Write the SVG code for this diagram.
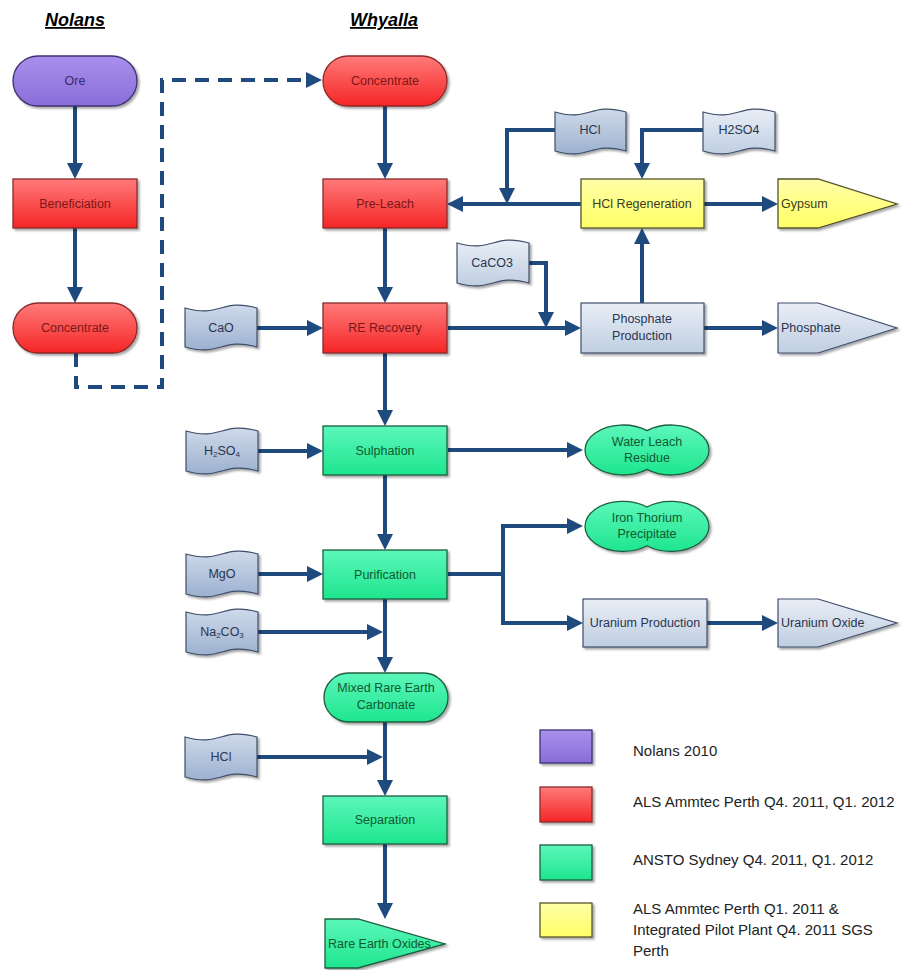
<svg xmlns="http://www.w3.org/2000/svg" width="913" height="970" viewBox="0 0 913 970">
<defs>
<linearGradient id="gRed" x1="0" y1="0" x2="0" y2="1"><stop offset="0" stop-color="#ff7a7a"/><stop offset="1" stop-color="#f52525"/></linearGradient>
<linearGradient id="gPur" x1="0" y1="0" x2="0" y2="1"><stop offset="0" stop-color="#a990ec"/><stop offset="1" stop-color="#8a6cd8"/></linearGradient>
<linearGradient id="gGrn" x1="0" y1="0" x2="0" y2="1"><stop offset="0" stop-color="#5cf7bb"/><stop offset="1" stop-color="#1ee58e"/></linearGradient>
<linearGradient id="gYel" x1="0" y1="0" x2="0" y2="1"><stop offset="0" stop-color="#ffffa8"/><stop offset="1" stop-color="#ffff66"/></linearGradient>
<linearGradient id="gTapeD" x1="0" y1="0" x2="0" y2="1"><stop offset="0" stop-color="#cfdaea"/><stop offset="1" stop-color="#9cb1cf"/></linearGradient>
<linearGradient id="gTapeL" x1="0" y1="0" x2="0" y2="1"><stop offset="0" stop-color="#e8eef6"/><stop offset="1" stop-color="#c0cee1"/></linearGradient>
<filter id="sh" x="-10%" y="-10%" width="125%" height="130%"><feDropShadow dx="2" dy="2" stdDeviation="1.2" flood-color="#000" flood-opacity="0.35"/></filter>
<marker id="ah" markerUnits="userSpaceOnUse" markerWidth="16" markerHeight="16" refX="10" refY="8" orient="auto"><path d="M0,0 L16,8 L0,16 z" fill="#1f4a7e"/></marker>
<style>
.t{font-family:"Liberation Sans",Arial,sans-serif;font-size:12.5px;text-anchor:middle;dominant-baseline:central}
.tl{text-anchor:start}
.red{fill:url(#gRed);stroke:#8a2a2a;stroke-width:1.3;filter:url(#sh)}
.pur{fill:url(#gPur);stroke:#3d3270;stroke-width:1.3;filter:url(#sh)}
.grn{fill:url(#gGrn);stroke:#1f5f3f;stroke-width:1.3;filter:url(#sh)}
.yel{fill:url(#gYel);stroke:#55552c;stroke-width:1.3;filter:url(#sh)}
.tpd{fill:url(#gTapeD);stroke:#3e4e6a;stroke-width:1.2;filter:url(#sh)}
.tpl{fill:url(#gTapeL);stroke:#3e4e6a;stroke-width:1.2;filter:url(#sh)}
.cRed{fill:#7a1818}.cPur{fill:#3a2a6a}.cGrn{fill:#0f5a2f}.cTape{fill:#2a3550}.cYel{fill:#3c3c1a}
.c{fill:none;stroke:#1f4a7e;stroke-width:4;marker-end:url(#ah)}
.dash{stroke-dasharray:14 9}
.h{font-family:"Liberation Sans",Arial,sans-serif;font-size:18px;font-weight:bold;font-style:italic;text-decoration:underline;text-anchor:middle;fill:#000}
.lg{font-family:"Liberation Sans",Arial,sans-serif;font-size:15px;fill:#222}
</style>
</defs>
<rect width="913" height="970" fill="#fff"/>
<text class="h" x="75" y="26">Nolans</text>
<text class="h" x="384" y="26">Whyalla</text>

<g id="connectors">
<path class="c" d="M75,106 V173"/>
<path class="c" d="M75,228 V297"/>
<path class="c dash" d="M76,353 V387 H162 V80 H316"/>
<path class="c" d="M385,106 V173"/>
<path class="c" d="M385,228 V297"/>
<path class="c" d="M385,353 V420"/>
<path class="c" d="M385,475 V544"/>
<path class="c" d="M385,599 V667"/>
<path class="c" d="M385,722 V790"/>
<path class="c" d="M385,844 V913"/>
<path class="c" d="M257,328 H317"/>
<path class="c" d="M258,451 H317"/>
<path class="c" d="M258,574 H317"/>
<path class="c" d="M258,632 H377"/>
<path class="c" d="M257,757 H377"/>
<path class="c" d="M448,450 H577"/>
<path class="c" d="M448,574 H503 V526 H577"/>
<path class="c" d="M503,574 V623 H577"/>
<path class="c" d="M707,623 H772"/>
<path class="c" d="M448,328 H575"/>
<path class="c" d="M526,263 H546 V322"/>
<path class="c" d="M642,303 V234"/>
<path class="c" d="M581,204 H453"/>
<path class="c" d="M555,130 H507 V198"/>
<path class="c" d="M703,130 H642 V173"/>
<path class="c" d="M704,204 H772"/>
<path class="c" d="M704,328 H772"/>
</g>

<g id="ore"><rect class="pur" x="13" y="56" width="124" height="50" rx="25"/><text class="t cPur" x="75" y="81">Ore</text></g>
<g id="beneficiation"><rect class="red" x="13" y="179" width="124" height="49"/><text class="t cRed" x="75" y="204">Beneficiation</text></g>
<g id="concentrate-nolans"><rect class="red" x="13" y="303" width="124" height="50" rx="25"/><text class="t cRed" x="75" y="328">Concentrate</text></g>

<g id="concentrate-whyalla"><rect class="red" x="323" y="56" width="124" height="50" rx="25"/><text class="t cRed" x="385" y="81">Concentrate</text></g>
<g id="pre-leach"><rect class="red" x="323" y="179" width="124" height="49"/><text class="t cRed" x="385" y="204">Pre-Leach</text></g>
<g id="re-recovery"><rect class="red" x="323" y="303" width="124" height="50"/><text class="t cRed" x="385" y="328">RE Recovery</text></g>
<g id="sulphation"><rect class="grn" x="323" y="426" width="124" height="49"/><text class="t cGrn" x="385" y="451">Sulphation</text></g>
<g id="purification"><rect class="grn" x="323" y="550" width="124" height="49"/><text class="t cGrn" x="385" y="575">Purification</text></g>
<g id="mixed-re-carbonate"><rect class="grn" x="324" y="673" width="124" height="49" rx="24.5"/><text class="t cGrn" x="386" y="688">Mixed Rare Earth</text><text class="t cGrn" x="386" y="705">Carbonate</text></g>
<g id="separation"><rect class="grn" x="323" y="796" width="124" height="48"/><text class="t cGrn" x="385" y="820">Separation</text></g>
<g id="rare-earth-oxides"><path class="grn" d="M325,919 H358 L445,944 L358,968 H325 Z"/><text class="t tl cGrn" x="328" y="944">Rare Earth Oxides</text></g>

<g id="cao"><path class="tpd" d="M185,308 C221,318 221,298 257,308 V347 C221,337 221,357 185,347 Z"/><text class="t cTape" x="221" y="328">CaO</text></g>
<g id="h2so4-left"><path class="tpd" d="M186,431 C222,441 222,421 258,431 V471 C222,461 222,481 186,471 Z"/><text class="t cTape" x="222" y="451">H<tspan font-size="8" dy="3">2</tspan><tspan dy="-3">SO</tspan><tspan font-size="8" dy="3">4</tspan></text></g>
<g id="mgo"><path class="tpd" d="M186,554 C222,564 222,544 258,554 V594 C222,584 222,604 186,594 Z"/><text class="t cTape" x="222" y="574">MgO</text></g>
<g id="na2co3"><path class="tpd" d="M186,612 C222,622 222,602 258,612 V652 C222,642 222,662 186,652 Z"/><text class="t cTape" x="222" y="632">Na<tspan font-size="8" dy="3">2</tspan><tspan dy="-3">CO</tspan><tspan font-size="8" dy="3">3</tspan></text></g>
<g id="hcl-bottom"><path class="tpd" d="M185,737 C221,747 221,727 257,737 V777 C221,767 221,787 185,777 Z"/><text class="t cTape" x="221" y="757">HCl</text></g>
<g id="hcl-top"><path class="tpd" d="M555,112 C590,122 590,102 626,112 V151 C590,141 590,161 555,151 Z"/><text class="t cTape" x="590" y="130">HCl</text></g>
<g id="h2so4-top"><path class="tpl" d="M703,112 C739,122 739,102 775,112 V151 C739,141 739,161 703,151 Z"/><text class="t cTape" x="739" y="130">H2SO4</text></g>
<g id="caco3"><path class="tpl" d="M457,243 C493,253 493,233 529,243 V283 C493,273 493,293 457,283 Z"/><text class="t cTape" x="492" y="263">CaCO3</text></g>

<g id="hcl-regeneration"><rect class="yel" x="581" y="179" width="123" height="49"/><text class="t cYel" x="642" y="204">HCl Regeneration</text></g>
<g id="gypsum"><path class="yel" d="M778,179 H818 L897,204 L818,228 H778 Z"/><text class="t tl cYel" x="781" y="204">Gypsum</text></g>
<g id="phosphate-production"><rect class="tpl" x="581" y="303" width="123" height="50"/><text class="t cTape" x="642" y="319">Phosphate</text><text class="t cTape" x="642" y="336">Production</text></g>
<g id="phosphate"><path class="tpl" d="M778,303 H818 L897,328 L818,353 H778 Z"/><text class="t tl cTape" x="781" y="328">Phosphate</text></g>

<g id="water-leach-residue"><path class="grn" d="M647,430.6 A38,25 0 1,0 647,469.4 A38,25 0 1,0 647,430.6 Z"/><text class="t cGrn" x="647" y="442">Water Leach</text><text class="t cGrn" x="647" y="458">Residue</text></g>
<g id="iron-thorium-precipitate"><path class="grn" d="M647,507 A38,25 0 1,0 647,545.8 A38,25 0 1,0 647,507 Z"/><text class="t cGrn" x="647" y="518">Iron Thorium</text><text class="t cGrn" x="647" y="534">Precipitate</text></g>
<g id="uranium-production"><rect class="tpl" x="583" y="599" width="124" height="48"/><text class="t cTape" x="645" y="623">Uranium Production</text></g>
<g id="uranium-oxide"><path class="tpl" d="M778,599 H818 L897,623 L818,647 H778 Z"/><text class="t tl cTape" x="781" y="623">Uranium Oxide</text></g>

<g id="legend">
<rect class="pur" x="540" y="730" width="52" height="33"/>
<rect class="red" x="540" y="787" width="52" height="35"/>
<rect class="grn" x="540" y="845" width="52" height="35"/>
<rect class="yel" x="540" y="903" width="52" height="34"/>
<text class="lg" x="633" y="756">Nolans 2010</text>
<text class="lg" x="633" y="807">ALS Ammtec Perth Q4. 2011, Q1. 2012</text>
<text class="lg" x="633" y="865">ANSTO Sydney Q4. 2011, Q1. 2012</text>
<text class="lg" x="633" y="914">ALS Ammtec Perth Q1. 2011 &amp;</text>
<text class="lg" x="633" y="935">Integrated Pilot Plant Q4. 2011 SGS</text>
<text class="lg" x="633" y="956">Perth</text>
</g>
</svg>
